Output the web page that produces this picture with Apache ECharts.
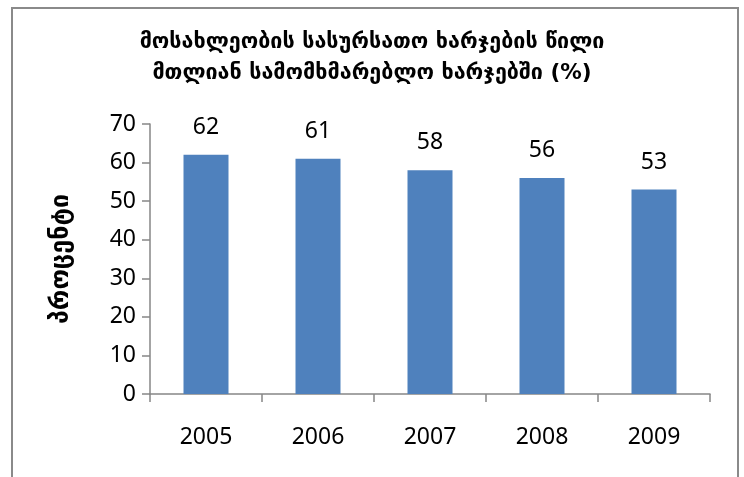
<!DOCTYPE html>
<html><head><meta charset="utf-8">
<script src="https://cdn.jsdelivr.net/npm/echarts@6/dist/echarts.min.js"></script>
<style>html,body{margin:0;padding:0;background:#fff}#c{width:744px;height:477px}</style>
</head><body><div id="c"></div>
<script>
const categories = ['2005','2006','2007','2008','2009'];
const values = [62, 61, 58, 56, 53];
const yTicks = [0,10,20,30,40,50,60,70];
const titleLines = ['მოსახლეობის სასურსათო ხარჯების წილი','მთლიან სამომხმარებლო ხარჯებში (%)'];
const yName = 'პროცენტი';

const chart = echarts.init(document.getElementById('c'));
const axisColor = '#868686';
const numFont = '"Noto Sans", "Open Sans", sans-serif';
chart.setOption({
  animation: false,
  backgroundColor: '#fff',
  graphic: [{
    type: 'rect', shape: {x: 12, y: 8, width: 726, height: 520},
    style: {fill: 'none', stroke: '#8a8a8a', lineWidth: 2}, silent: true
  }],
  title: {
    text: titleLines.join('\n'), left: 'center', top: 22,
    textStyle: {fontFamily: '"DejaVu Sans", sans-serif', fontWeight: 'bold', fontSize: 21.5, lineHeight: 31, color: '#000'}
  },
  grid: {left: 150, right: 34, top: 124, bottom: 83, containLabel: false},
  xAxis: {
    type: 'category', data: categories,
    axisLine: {lineStyle: {color: axisColor, width: 1.5}},
    axisTick: {show: true, length: 8, alignWithLabel: false, lineStyle: {color: axisColor, width: 1.5}},
    axisLabel: {color: '#000', fontSize: 23, fontFamily: numFont, margin: 32}
  },
  yAxis: {
    type: 'value', min: 0, max: 70, interval: 10,
    name: yName, nameLocation: 'middle', nameGap: 76, nameRotate: 90,
    nameTextStyle: {color: '#000', fontSize: 25, fontWeight: 'bold', fontFamily: '"DejaVu Sans", sans-serif'},
    axisLine: {show: true, lineStyle: {color: axisColor, width: 1.5}},
    axisTick: {show: true, length: 8, lineStyle: {color: axisColor, width: 1.5}},
    splitLine: {show: false},
    axisLabel: {color: '#000', fontSize: 23, fontFamily: numFont, margin: 14,
      formatter: v => yTicks.includes(v) ? String(v) : ''}
  },
  series: [{
    type: 'bar', data: values, barWidth: 45,
    itemStyle: {color: '#4F81BD'},
    label: {show: true, position: 'top', distance: 16, color: '#000', fontSize: 23, fontFamily: numFont}
  }]
});
</script></body></html>
